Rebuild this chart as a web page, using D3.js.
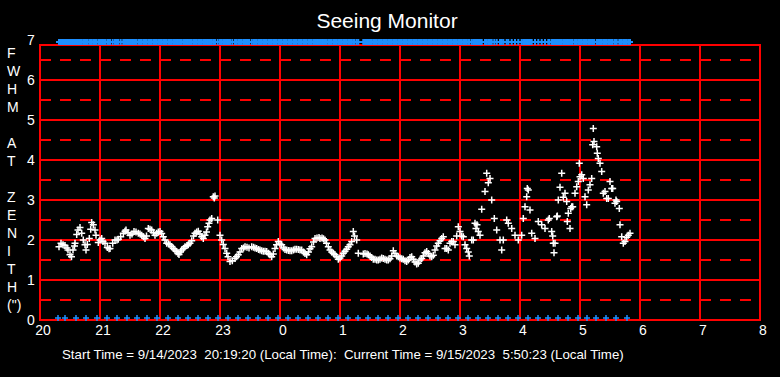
<!DOCTYPE html>
<html>
<head>
<meta charset="utf-8">
<script src="https://cdn.jsdelivr.net/npm/d3@7"></script>
<style>
  html, body { margin: 0; padding: 0; background: #000; }
  svg { display: block; font-family: "Liberation Sans", Arial, sans-serif; }
</style>
</head>
<body>
<svg id="canvas" width="780" height="377"></svg>
<script>
// minutes after 20:00 local time, FWHM at zenith (arcsec)
const minutes = [
  19, 21, 23, 25, 27, 28, 30, 31.5, 33, 34.5, 35, 36.7, 38, 40, 41.7, 43.3, 45, 46, 47.3, 49.3,
  50.7, 51.7, 53.3, 55, 56, 58.3, 60, 61.7, 63, 65, 67.3, 69, 70, 72.7, 75, 77, 78.3, 80.7, 83.3, 85,
  86, 88, 90, 92, 94, 96, 98.3, 100, 101.7, 103.5, 105, 106.5, 108.3, 110, 111.7, 113.5, 115, 116.7, 118.3, 120,
  121.7, 123.3, 125, 126.7, 128.5, 130, 131.7, 133.3, 135, 136.7, 138, 139, 140.5, 141.7, 143.5, 145, 147, 148.3, 150, 151.7,
  153.5, 155, 156.7, 158.3, 160, 161.7, 163.3, 165, 166.5, 167.7, 169, 170, 171.7, 173.3, 174.3, 175, 177.7, 180, 181.7, 183.3,
  185, 186.7, 188, 190, 192.3, 195, 196.5, 198.3, 200, 201.7, 203.5, 205, 207, 209, 211.7, 213.5, 215, 216.7, 218.5, 220,
  221.7, 223.3, 225, 226.7, 228.5, 230, 231.7, 233.3, 235, 236.5, 238.3, 240, 241.7, 243.5, 245, 246.7, 248.5, 250, 251.7, 253.5,
  255, 256.7, 258.5, 260, 261.7, 263.5, 265, 266.7, 268.5, 270, 271.7, 273.5, 275, 277, 279, 280, 282, 283.5, 285, 286.5,
  288.3, 290, 291.7, 293.5, 295, 296.7, 298.3, 300, 301.7, 303.3, 305, 306.7, 308.3, 310, 311.7, 313.3, 314.5, 316.7, 318.3, 323.3,
  325, 327, 328.3, 330, 331.7, 333.3, 335, 336.7, 338.3, 340, 341.7, 343.3, 345, 346.7, 348.3, 350, 351.7, 353.3, 355, 356.7,
  358.3, 360, 361.7, 363.3, 365, 366.7, 368.3, 370, 371.7, 373.3, 375, 376.7, 378.3, 380, 381.7, 383.3, 385, 386.7, 388.3, 390,
  391.7, 393.3, 395, 396.7, 398.3, 400, 401.7, 403.3, 405, 406.7, 408.3, 410, 411.7, 413.3, 415, 416.7, 418.3, 420, 421.7, 423.3,
  425, 426.7, 428.3, 429.3, 431.7, 433.3, 435, 436, 437, 438.3, 440, 441.7, 445, 446.7, 448.3, 450, 451.7, 454.3, 456.7, 460,
  461.7, 463.3, 466.7, 468.3, 471.7, 475, 478.3, 481.7, 483.3, 485, 486.7, 487.3, 488.3, 490, 491.7, 495, 498.3, 501.7, 505, 508.3,
  509.3, 511.7, 512.7, 513.3, 514, 515, 516.7, 517.3, 518.3, 520, 521.7, 523.3, 525, 526.7, 527.3, 528.3, 530, 530.7, 531.7, 532.7,
  535, 536.7, 538.3, 539.3, 540, 541.7, 543.3, 545, 546.7, 548.3, 550, 551.7, 552.7, 553.3, 554, 556.7, 557.3, 558.3, 560, 561.7,
  563.3, 565, 566.7, 568.3, 570, 571.7, 572.7, 575, 576, 576.7, 579.3, 580, 581.7, 583.3, 585, 586.7, 588.3, 590
];
const fwhm = [
  1.83, 1.92, 1.88, 1.86, 1.80, 1.75, 1.63, 1.58, 1.75, 1.85, 1.92, 2.14, 2.25, 2.31, 2.17, 2.00, 1.88, 1.75, 1.89, 2.04,
  2.27, 2.44, 2.38, 2.25, 2.12, 1.94, 2.00, 2.04, 1.96, 1.92, 1.81, 1.78, 1.79, 1.92, 2.00, 2.00, 2.02, 2.08, 2.17, 2.22,
  2.25, 2.18, 2.12, 2.15, 2.21, 2.20, 2.17, 2.15, 2.12, 2.08, 2.04, 2.10, 2.29, 2.27, 2.25, 2.18, 2.12, 2.17, 2.20, 2.21,
  2.16, 2.08, 2.00, 1.92, 1.90, 1.88, 1.84, 1.79, 1.75, 1.71, 1.66, 1.64, 1.70, 1.75, 1.79, 1.83, 1.86, 1.88, 1.92, 1.98,
  2.10, 2.17, 2.20, 2.22, 2.15, 2.08, 2.04, 2.12, 2.20, 2.33, 2.42, 2.50, 2.54, 3.08, 3.05, 3.10, 2.50, 2.12, 2.00, 1.89,
  1.79, 1.67, 1.58, 1.46, 1.48, 1.54, 1.58, 1.63, 1.70, 1.79, 1.80, 1.83, 1.82, 1.80, 1.83, 1.82, 1.80, 1.79, 1.76, 1.75,
  1.73, 1.72, 1.72, 1.71, 1.67, 1.63, 1.58, 1.65, 1.79, 1.88, 1.96, 1.90, 1.88, 1.80, 1.76, 1.75, 1.74, 1.73, 1.73, 1.75,
  1.77, 1.77, 1.76, 1.75, 1.75, 1.70, 1.66, 1.63, 1.70, 1.78, 1.83, 1.95, 2.04, 2.05, 2.06, 2.04, 2.05, 2.03, 2.00, 1.92,
  1.83, 1.75, 1.70, 1.66, 1.63, 1.58, 1.52, 1.55, 1.60, 1.67, 1.72, 1.77, 1.83, 1.88, 1.96, 2.21, 2.10, 2.00, 1.67, 1.65,
  1.66, 1.65, 1.63, 1.60, 1.56, 1.52, 1.52, 1.50, 1.50, 1.52, 1.55, 1.54, 1.52, 1.50, 1.50, 1.53, 1.60, 1.73, 1.66, 1.60,
  1.58, 1.55, 1.53, 1.52, 1.48, 1.46, 1.50, 1.56, 1.58, 1.52, 1.45, 1.40, 1.42, 1.50, 1.54, 1.60, 1.68, 1.71, 1.66, 1.60,
  1.58, 1.62, 1.75, 1.85, 1.92, 1.98, 2.04, 2.08, 1.79, 1.79, 1.75, 1.92, 1.96, 1.96, 1.88, 2.10, 2.33, 2.21, 2.10, 2.08,
  1.88, 1.79, 1.70, 1.60, 2.00, 2.00, 2.42, 2.29, 2.38, 2.21, 2.12, 2.77, 3.21, 3.67, 3.43, 3.54, 3.00, 2.54, 2.25, 2.00,
  1.75, 2.00, 2.50, 2.42, 2.29, 2.12, 2.00, 2.12, 2.54, 2.83, 3.08, 3.29, 3.25, 2.75, 2.17, 2.04, 2.46, 2.38, 2.29, 2.50,
  2.54, 2.21, 2.10, 1.92, 1.68, 1.92, 2.58, 2.60, 3.00, 3.32, 3.67, 3.07, 3.17, 2.96, 2.46, 2.67, 2.29, 2.79, 2.83, 2.83,
  3.17, 3.33, 3.46, 3.92, 3.58, 3.63, 3.54, 3.08, 2.88, 3.25, 3.38, 3.54, 4.38, 4.79, 4.46, 4.33, 4.17, 4.04, 3.92, 3.71,
  3.17, 3.21, 3.04, 3.04, 3.46, 3.29, 3.29, 2.92, 3.00, 2.96, 2.79, 2.38, 2.08, 1.92, 1.96, 2.07, 2.12, 2.17
];
// blue time marks along the bottom edge (minutes after 20:00)
const timeMarks = [
  18, 25, 36, 46, 57, 67, 77, 87, 97, 107, 117, 128, 138, 148, 158, 168, 178, 188, 198, 208,
  218, 228, 238, 248, 258, 268, 278, 288, 298, 308, 318, 328, 338, 348, 358, 368, 378, 388, 398, 408,
  418, 428, 438, 448, 458, 468, 478, 488, 498, 508, 518, 528, 538, 547, 556, 566, 576, 587
];
const hourTicks = [0, 60, 120, 180, 240, 300, 360, 420, 480, 540, 600, 660, 720];
const hourLabels = ["20", "21", "22", "23", "0", "1", "2", "3", "4", "5", "6", "7", "8"];
const yTicks = [0, 1, 2, 3, 4, 5, 6, 7];
const halfTicks = [0.5, 1.5, 2.5, 3.5, 4.5, 5.5, 6.5];
const yTitle = ["F", "W", "H", "M", "", "A", "T", "", "Z", "E", "N", "I", "T", "H", "(\")"];
const footer = "Start Time = 9/14/2023  20:19:20 (Local Time):  Current Time = 9/15/2023  5:50:23 (Local Time)";

const svg = d3.select("#canvas");
const W = 780, H = 377;
svg.append("rect").attr("width", W).attr("height", H).attr("fill", "#000");

const x = d3.scaleLinear().domain([0, 720]).range([40, 760]);
const y = d3.scaleLinear().domain([0, 7]).range([320, 40]);
const plotTop = 45, plotBottom = y(0);
const red = "#ff0000";

const grid = svg.append("g").attr("shape-rendering", "crispEdges");
grid.selectAll("line.dash")
  .data(halfTicks)
  .join("line")
  .attr("class", "dash")
  .attr("x1", x(0)).attr("x2", x(720))
  .attr("y1", d => y(d)).attr("y2", d => y(d))
  .attr("stroke", red).attr("stroke-width", 1.5)
  .attr("stroke-dasharray", "11,9");
grid.selectAll("line.hgrid")
  .data(yTicks.filter(d => d > 0 && d < 7))
  .join("line")
  .attr("class", "hgrid")
  .attr("x1", x(0)).attr("x2", x(720))
  .attr("y1", d => y(d)).attr("y2", d => y(d))
  .attr("stroke", red).attr("stroke-width", 1.5);
grid.selectAll("line.vgrid")
  .data(hourTicks)
  .join("line")
  .attr("class", "vgrid")
  .attr("x1", d => x(d)).attr("x2", d => x(d))
  .attr("y1", plotTop).attr("y2", plotBottom)
  .attr("stroke", red).attr("stroke-width", 1.5);
grid.append("rect")
  .attr("x", x(0)).attr("y", plotTop)
  .attr("width", x(720) - x(0)).attr("height", plotBottom - plotTop)
  .attr("fill", "none").attr("stroke", red).attr("stroke-width", 1.5);

const plus = (r) => `M${-r},0H${r}M0,${-r}V${r}`;
const blue = "#1e8fff";

// top bar: one blue mark per measurement
svg.append("g")
  .selectAll("path")
  .data(minutes)
  .join("path")
  .attr("d", plus(3))
  .attr("transform", d => `translate(${x(d)},${y(6.95)})`)
  .attr("stroke", blue).attr("stroke-width", 2).attr("fill", "none");

svg.append("g")
  .selectAll("path")
  .data(timeMarks)
  .join("path")
  .attr("d", plus(3))
  .attr("transform", d => `translate(${x(d)},${y(0.05)})`)
  .attr("stroke", blue).attr("stroke-width", 1.5).attr("fill", "none");

const pts = minutes.map((m, i) => [m, fwhm[i]]);
svg.append("g")
  .selectAll("path")
  .data(pts)
  .join("path")
  .attr("d", plus(3.5))
  .attr("transform", d => `translate(${x(d[0])},${y(d[1])})`)
  .attr("stroke", "#fff").attr("stroke-width", 1.5).attr("fill", "none");

// axis labels
const labels = svg.append("g").attr("fill", "#fff");
labels.selectAll("text.ytick")
  .data(yTicks)
  .join("text")
  .attr("class", "ytick")
  .attr("x", 31).attr("y", d => y(d) + 5)
  .attr("text-anchor", "middle")
  .attr("font-size", 14)
  .text(d => d);
labels.selectAll("text.xtick")
  .data(hourTicks)
  .join("text")
  .attr("class", "xtick")
  .attr("x", d => x(d) + 3).attr("y", 335)
  .attr("text-anchor", "middle")
  .attr("font-size", 14)
  .text((d, i) => hourLabels[i]);
labels.selectAll("text.ytitle")
  .data(yTitle)
  .join("text")
  .attr("class", "ytitle")
  .attr("x", 7).attr("y", (d, i) => 58 + i * 18)
  .attr("font-size", 14)
  .text(d => d);

labels.append("text")
  .attr("x", 387).attr("y", 28)
  .attr("text-anchor", "middle")
  .attr("font-size", 21)
  .text("Seeing Monitor");

labels.append("text")
  .attr("x", 62).attr("y", 359)
  .attr("font-size", 13.3)
  .attr("xml:space", "preserve")
  .style("white-space", "pre")
  .text(footer);
</script>
</body>
</html>
